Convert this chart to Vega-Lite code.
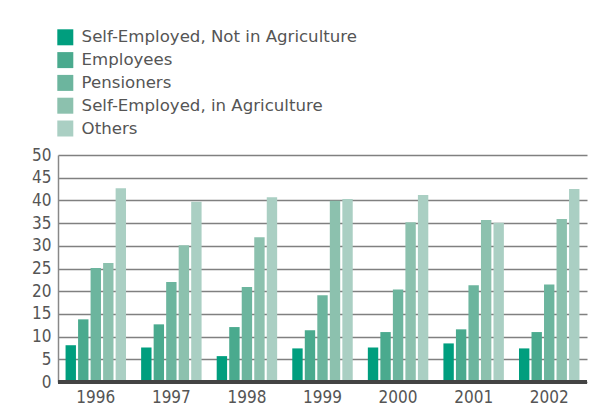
{
  "$schema": "https://vega.github.io/schema/vega-lite/v6.json",
  "width": 529,
  "height": 227,
  "autosize": {"type": "none"},
  "padding": {"left": 58, "top": 155, "right": 12, "bottom": 37},
  "background": "white",
  "data": {
    "values": [
      {"year": "1996", "group": "Self-Employed, Not in Agriculture", "value": 8.1},
      {"year": "1996", "group": "Employees", "value": 13.8},
      {"year": "1996", "group": "Pensioners", "value": 25.1},
      {"year": "1996", "group": "Self-Employed, in Agriculture", "value": 26.2},
      {"year": "1996", "group": "Others", "value": 42.7},
      {"year": "1997", "group": "Self-Employed, Not in Agriculture", "value": 7.6},
      {"year": "1997", "group": "Employees", "value": 12.7},
      {"year": "1997", "group": "Pensioners", "value": 22.0},
      {"year": "1997", "group": "Self-Employed, in Agriculture", "value": 30.1},
      {"year": "1997", "group": "Others", "value": 39.7},
      {"year": "1998", "group": "Self-Employed, Not in Agriculture", "value": 5.7},
      {"year": "1998", "group": "Employees", "value": 12.1},
      {"year": "1998", "group": "Pensioners", "value": 20.9},
      {"year": "1998", "group": "Self-Employed, in Agriculture", "value": 31.9},
      {"year": "1998", "group": "Others", "value": 40.7},
      {"year": "1999", "group": "Self-Employed, Not in Agriculture", "value": 7.4},
      {"year": "1999", "group": "Employees", "value": 11.4},
      {"year": "1999", "group": "Pensioners", "value": 19.1},
      {"year": "1999", "group": "Self-Employed, in Agriculture", "value": 39.9},
      {"year": "1999", "group": "Others", "value": 40.3},
      {"year": "2000", "group": "Self-Employed, Not in Agriculture", "value": 7.6},
      {"year": "2000", "group": "Employees", "value": 11.0},
      {"year": "2000", "group": "Pensioners", "value": 20.4},
      {"year": "2000", "group": "Self-Employed, in Agriculture", "value": 35.2},
      {"year": "2000", "group": "Others", "value": 41.2},
      {"year": "2001", "group": "Self-Employed, Not in Agriculture", "value": 8.5},
      {"year": "2001", "group": "Employees", "value": 11.6},
      {"year": "2001", "group": "Pensioners", "value": 21.3},
      {"year": "2001", "group": "Self-Employed, in Agriculture", "value": 35.7},
      {"year": "2001", "group": "Others", "value": 35.1},
      {"year": "2002", "group": "Self-Employed, Not in Agriculture", "value": 7.4},
      {"year": "2002", "group": "Employees", "value": 11.0},
      {"year": "2002", "group": "Pensioners", "value": 21.5},
      {"year": "2002", "group": "Self-Employed, in Agriculture", "value": 35.9},
      {"year": "2002", "group": "Others", "value": 42.5}
    ]
  },
  "layer": [
    {
      "mark": {"type": "bar"},
      "encoding": {
        "x": {
          "field": "year", "type": "nominal", "title": null,
          "scale": {"paddingInner": 0.2, "paddingOuter": 0.1},
          "axis": {"labelAngle": 0, "domain": false, "ticks": false, "labelFontSize": 17, "labelColor": "#555555", "labelFont": "DejaVu Sans Condensed", "labelPadding": 7, "grid": false}
        },
        "xOffset": {
          "field": "group", "type": "nominal",
          "sort": ["Self-Employed, Not in Agriculture", "Employees", "Pensioners", "Self-Employed, in Agriculture", "Others"],
          "scale": {"paddingInner": 0.17}
        },
        "y": {
          "field": "value", "type": "quantitative", "title": null,
          "scale": {"domain": [0, 50], "nice": false},
          "axis": {"values": [0, 5, 10, 15, 20, 25, 30, 35, 40, 45, 50], "ticks": false, "domain": true, "domainColor": "#888888", "domainWidth": 1.5, "gridColor": "#808080", "gridWidth": 1.5, "labelFontSize": 17, "labelColor": "#555555", "labelFont": "DejaVu Sans Condensed", "labelPadding": 7}
        },
        "color": {
          "field": "group", "type": "nominal",
          "sort": ["Self-Employed, Not in Agriculture", "Employees", "Pensioners", "Self-Employed, in Agriculture", "Others"],
          "scale": {"range": ["#009E7E", "#4AAA8E", "#6CB59E", "#8CC1AE", "#AACFC3"]},
          "legend": {
            "title": null, "orient": "none", "legendX": -1, "legendY": -126,
            "symbolType": "square", "symbolSize": 256, "symbolStrokeWidth": 0, "symbolOpacity": 1,
            "labelFontSize": 16.6, "labelColor": "#555555", "labelFont": "DejaVu Sans",
            "rowPadding": 5.8, "labelOffset": 8, "labelLimit": 400
          }
        }
      }
    },
    {
      "mark": {"type": "rule", "color": "#444444", "strokeWidth": 2.5},
      "encoding": {
        "y": {
          "datum": 0, "type": "quantitative", "title": null,
          "axis": {"values": [0, 5, 10, 15, 20, 25, 30, 35, 40, 45, 50], "ticks": false, "domain": true, "domainColor": "#888888", "domainWidth": 1.5, "gridColor": "#808080", "gridWidth": 1.5, "labelFontSize": 17, "labelColor": "#555555", "labelFont": "DejaVu Sans Condensed", "labelPadding": 7}
        }
      }
    }
  ],
  "config": {
    "view": {"stroke": null},
    "axis": {"gridOpacity": 1}
  }
}
